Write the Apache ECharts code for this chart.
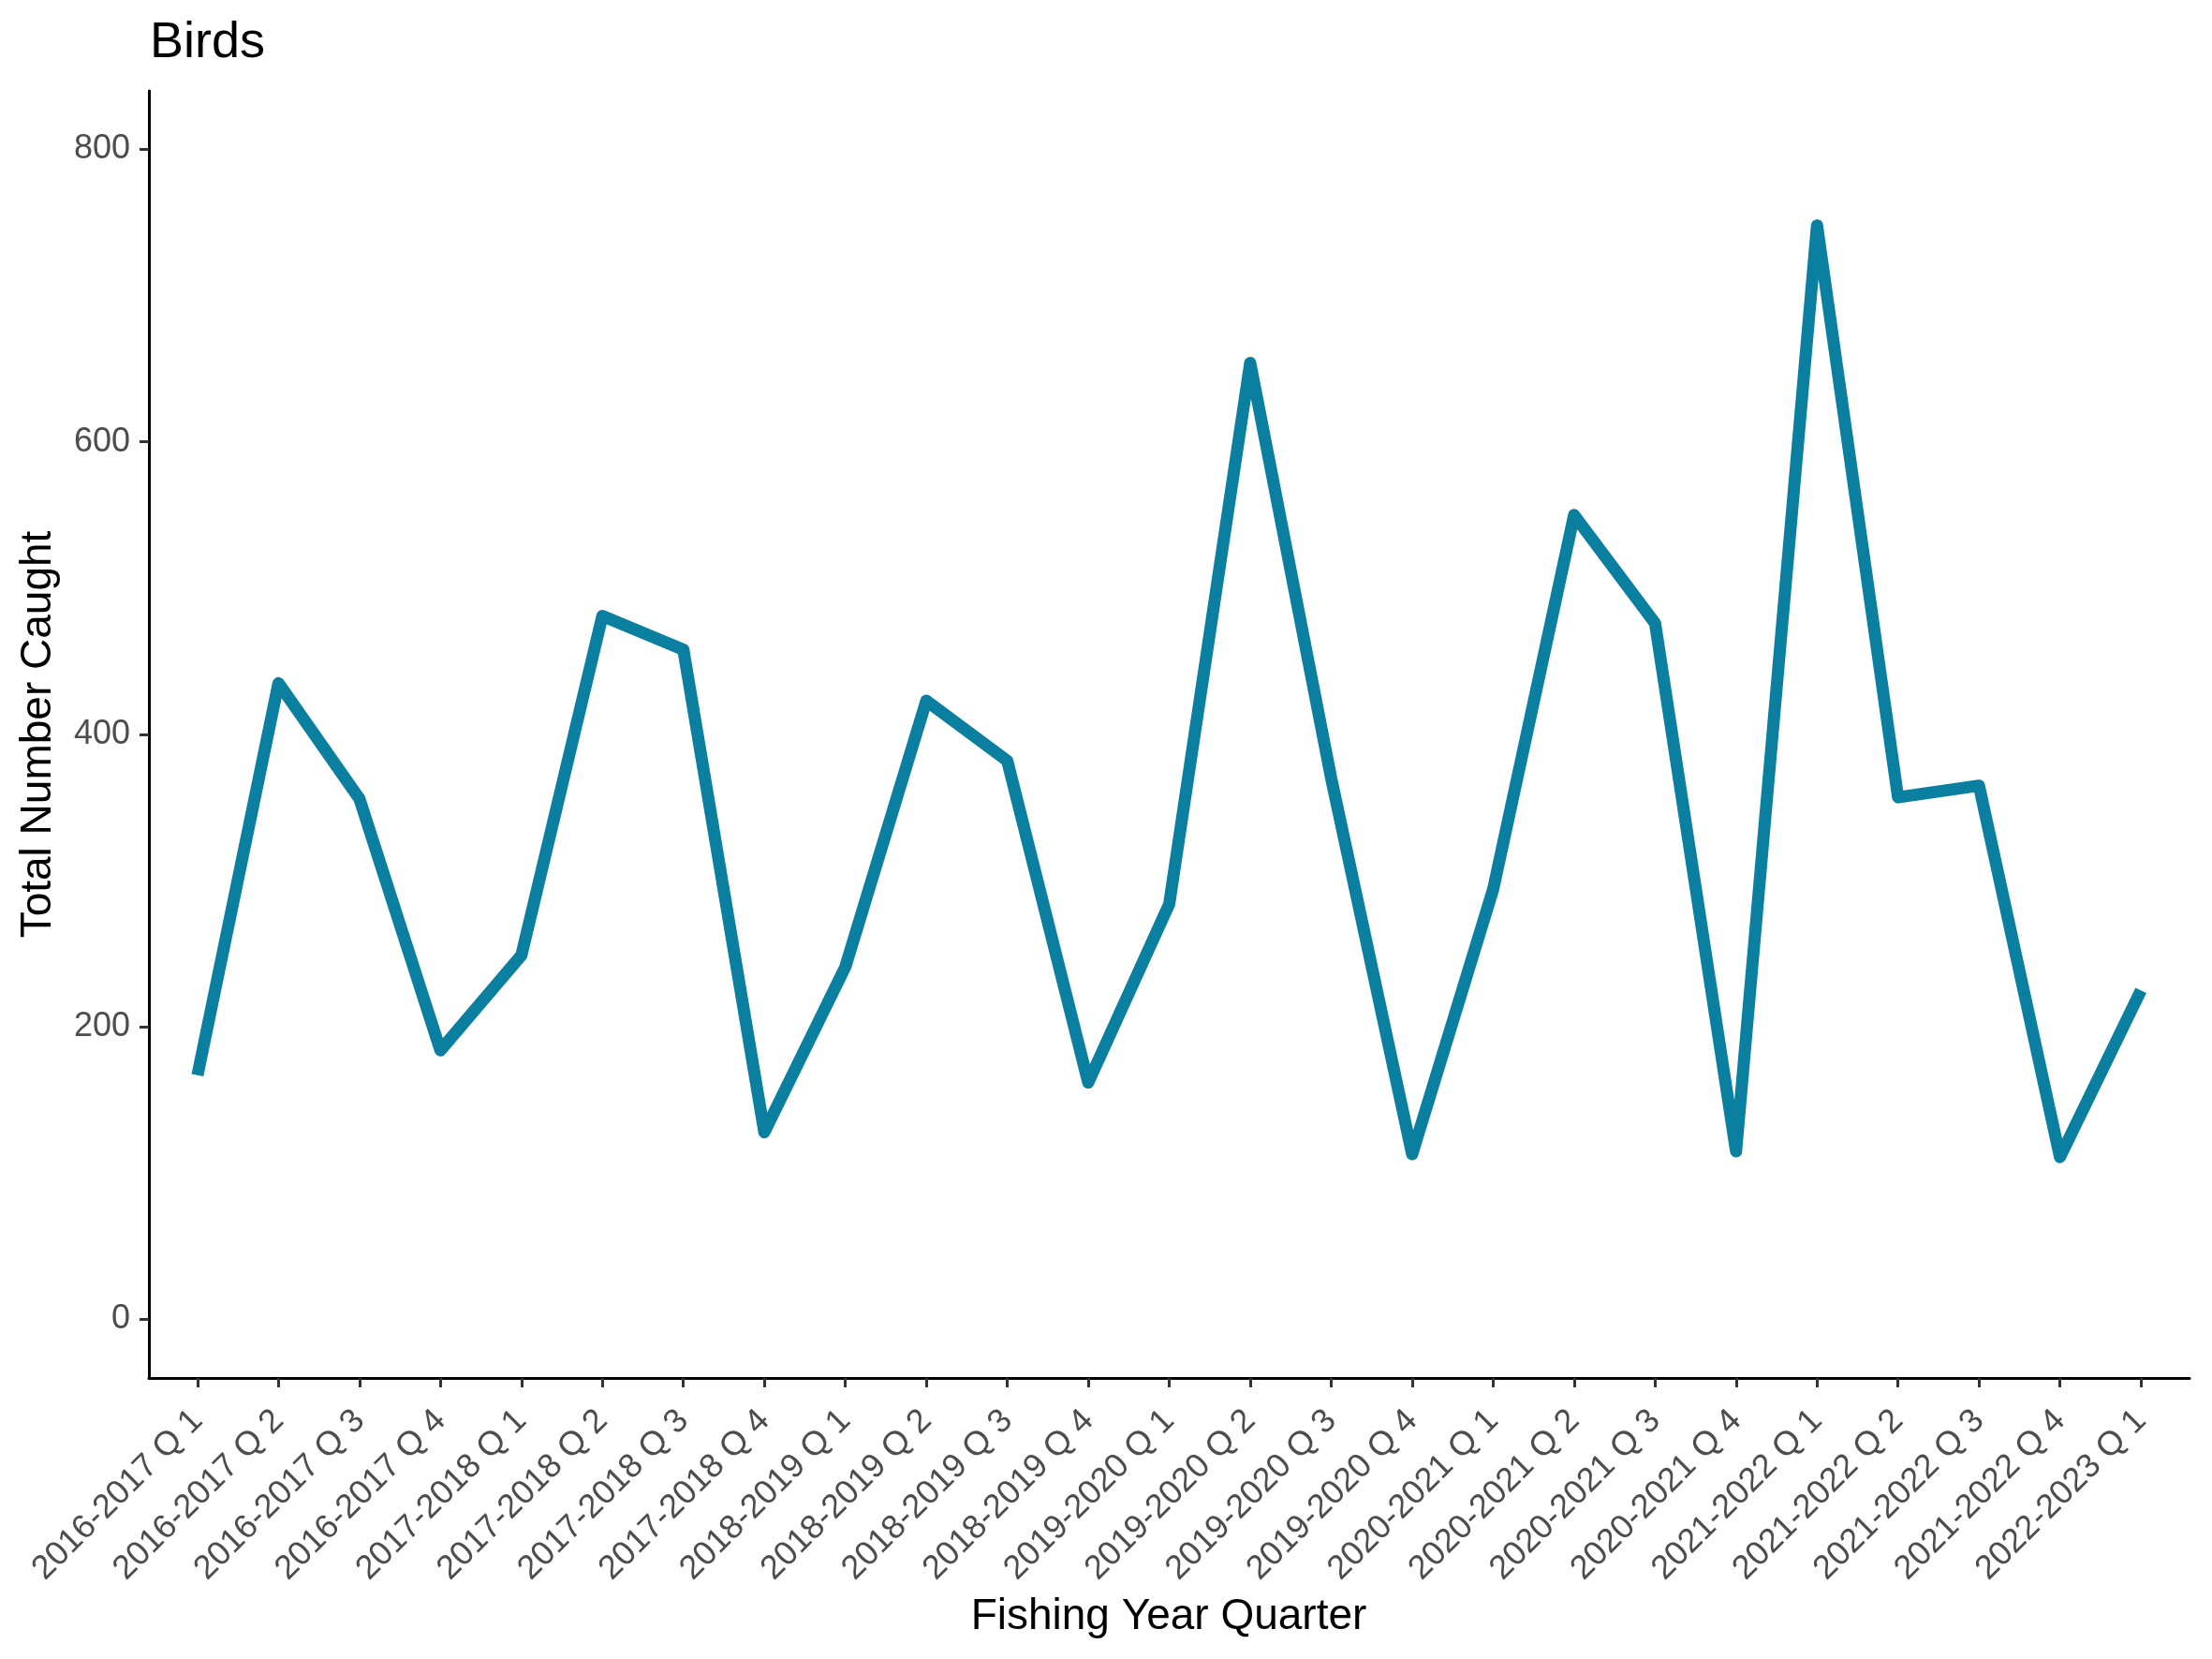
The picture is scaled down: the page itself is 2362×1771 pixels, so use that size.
<!DOCTYPE html>
<html>
<head>
<meta charset="utf-8">
<script src="https://cdn.jsdelivr.net/npm/echarts@6/dist/echarts.min.js"></script>
<style>
html,body{margin:0;padding:0;background:#fff;}
#chart{width:2362px;height:1771px;}
</style>
</head>
<body>
<div id="chart"></div>
<script>
const categories = [
  "2016-2017 Q 1","2016-2017 Q 2","2016-2017 Q 3","2016-2017 Q 4",
  "2017-2018 Q 1","2017-2018 Q 2","2017-2018 Q 3","2017-2018 Q 4",
  "2018-2019 Q 1","2018-2019 Q 2","2018-2019 Q 3","2018-2019 Q 4",
  "2019-2020 Q 1","2019-2020 Q 2","2019-2020 Q 3","2019-2020 Q 4",
  "2020-2021 Q 1","2020-2021 Q 2","2020-2021 Q 3","2020-2021 Q 4",
  "2021-2022 Q 1","2021-2022 Q 2","2021-2022 Q 3","2021-2022 Q 4",
  "2022-2023 Q 1"
];
const birdsCaught = [
  167, 435, 356, 184,
  249, 481, 458, 128,
  241, 423, 382, 162,
  284, 654, 370, 113,
  294, 550, 476, 115,
  748, 357, 365, 111,
  225
];
const yTicks = [0, 200, 400, 600, 800];
const titleText = "Birds";
const xTitle = "Fishing Year Quarter";
const yTitle = "Total Number Caught";

const FONT = "'Liberation Sans', Arial, sans-serif";
const idx = categories.map((_, i) => i);
const seriesData = birdsCaught.map((v, i) => [i, v]);

const chart = echarts.init(document.getElementById('chart'), null, {renderer: 'canvas'});
chart.setOption({
  animation: false,
  backgroundColor: '#ffffff',
  grid: {left: 159, right: 24, top: 97, bottom: 300, containLabel: false},
  xAxis: {
    type: 'value',
    min: -0.6,
    max: categories.length - 1 + 0.6,
    axisLine: {show: true, onZero: false, lineStyle: {color: '#000000', width: 3}},
    axisTick: {show: true, customValues: idx, length: 10, lineStyle: {color: '#333333', width: 3}},
    axisLabel: {
      customValues: idx,
      formatter: v => categories[Math.round(v)],
      rotate: 45,
      margin: 40,
      fontSize: 36,
      fontFamily: FONT,
      color: '#4D4D4D'
    },
    splitLine: {show: false}
  },
  yAxis: {
    type: 'value',
    min: -40,
    max: 840,
    axisLine: {show: true, onZero: false, lineStyle: {color: '#000000', width: 3}},
    axisTick: {show: true, customValues: yTicks, length: 10, lineStyle: {color: '#333333', width: 3}},
    axisLabel: {
      customValues: yTicks,
      margin: 20,
      fontSize: 36,
      fontFamily: FONT,
      color: '#4D4D4D'
    },
    splitLine: {show: false}
  },
  series: [{
    type: 'line',
    data: seriesData,
    showSymbol: false,
    symbol: 'none',
    lineStyle: {color: '#0A7FA0', width: 13, cap: 'butt', join: 'round'},
    clip: false
  }],
  graphic: [
    {type: 'text', x: 160, y: 46, style: {text: titleText, font: "54px " + FONT, fill: '#000', textAlign: 'left', textVerticalAlign: 'middle', verticalAlign: 'middle'}},
    {type: 'text', x: 1248, y: 1726, style: {text: xTitle, font: "46px " + FONT, fill: '#000', textAlign: 'center', textVerticalAlign: 'middle', verticalAlign: 'middle'}},
    {type: 'text', x: 41, y: 784, rotation: Math.PI / 2, style: {text: yTitle, font: "46px " + FONT, fill: '#000', textAlign: 'center', textVerticalAlign: 'middle', verticalAlign: 'middle'}}
  ]
});
</script>
</body>
</html>
